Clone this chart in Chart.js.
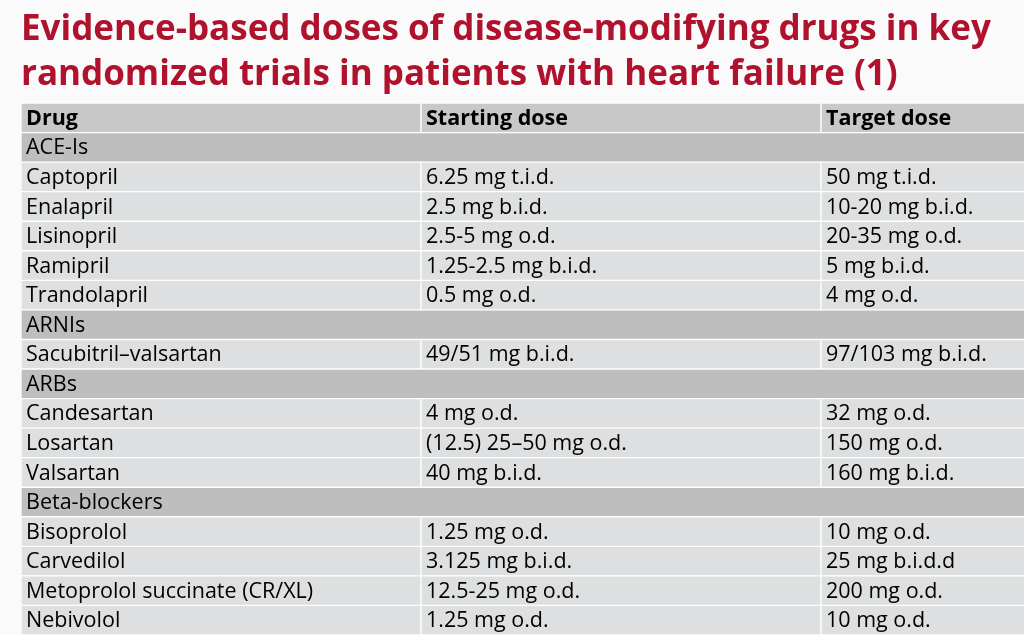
<!DOCTYPE html>
<html>
<head>
<meta charset="utf-8">
<title>Evidence-based doses</title>
<script src="https://cdn.jsdelivr.net/npm/chart.js@4.4.1/dist/chart.umd.min.js"></script>
<style>
    html, body { margin: 0; padding: 0; background: #fafafa; overflow: hidden; }
    #wrap { width: 1024px; height: 635px; }
</style>
</head>
<body>
<div id="wrap"><canvas id="doseTable" width="1024" height="635"></canvas></div>
<script>
// Table content
const titleLines = ['Evidence-based doses of disease-modifying drugs in key', 'randomized trials in patients with heart failure (1)'];
const headers = ['Drug', 'Starting dose', 'Target dose'];
const drugs = ['ACE-Is', 'Captopril', 'Enalapril', 'Lisinopril', 'Ramipril', 'Trandolapril',
    'ARNIs', 'Sacubitril\u2013valsartan',
    'ARBs', 'Candesartan', 'Losartan', 'Valsartan',
    'Beta-blockers', 'Bisoprolol', 'Carvedilol', 'Metoprolol succinate (CR/XL)', 'Nebivolol'];
// null = drug class row (spans the whole table)
const startingDoses = [null, '6.25 mg t.i.d.', '2.5 mg b.i.d.', '2.5-5 mg o.d.', '1.25-2.5 mg b.i.d.', '0.5 mg o.d.',
    null, '49/51 mg b.i.d.',
    null, '4 mg o.d.', '(12.5) 25\u201350 mg o.d.', '40 mg b.i.d.',
    null, '1.25 mg o.d.', '3.125 mg b.i.d.', '12.5-25 mg o.d.', '1.25 mg o.d.'];
const targetDoses = [null, '50 mg t.i.d.', '10-20 mg b.i.d.', '20-35 mg o.d.', '5 mg b.i.d.', '4 mg o.d.',
    null, '97/103 mg b.i.d.',
    null, '32 mg o.d.', '150 mg o.d.', '160 mg b.i.d.',
    null, '10 mg o.d.', '25 mg b.i.d.d', '200 mg o.d.', '10 mg o.d.'];

// Build rows (header first)
const rowLabels = ['header'].concat(drugs);
const rowKind = ['header'].concat(startingDoses.map(d => d === null ? 'class' : 'drug'));
const cellText = [headers].concat(drugs.map((d, i) => [d, startingDoses[i], targetDoses[i]]));

const rowColors = { header: '#c8c8c8', class: '#bebebe', drug: '#dedfe0' };
const fontFamily = '"Open Sans", Lato, sans-serif';

function cellRange(col) {
    return rowKind.map(kind => {
        if (kind === 'class') return col === 0 ? [0, 3] : null;
        return [col, col + 1];
    });
}

// Draw the cell texts on top of the bars
const cellTextPlugin = {
    id: 'cellText',
    afterDatasetsDraw(chart) {
        const ctx = chart.ctx;
        const x = chart.scales.x;
        const y = chart.scales.y;
        ctx.save();
        ctx.beginPath();
        ctx.rect(chart.chartArea.left, chart.chartArea.top, chart.chartArea.width, chart.chartArea.height);
        ctx.clip();
        ctx.fillStyle = '#000';
        ctx.textBaseline = 'middle';
        ctx.textAlign = 'left';
        cellText.forEach((row, i) => {
            ctx.font = (rowKind[i] === 'header' ? 'bold ' : '') + '21.5px ' + fontFamily;
            const py = y.getPixelForValue(i) + 1;
            row.forEach((txt, c) => {
                if (!txt) return;
                ctx.fillText(txt, x.getPixelForValue(c) + 5, py);
            });
        });
        ctx.restore();
    }
};

const barStyle = {
    grouped: false,
    barPercentage: 1,
    categoryPercentage: 1,
    borderWidth: 1,
    borderColor: '#ffffff',
    borderSkipped: false,
    backgroundColor: ctx => rowColors[rowKind[ctx.dataIndex]]
};

new Chart(document.getElementById('doseTable'), {
    type: 'bar',
    data: {
        labels: rowLabels,
        datasets: [0, 1, 2].map(c => Object.assign({ label: headers[c], data: cellRange(c) }, barStyle))
    },
    options: {
        indexAxis: 'y',
        responsive: false,
        animation: false,
        layout: { padding: { left: 21, right: 0, top: 0, bottom: 0 } },
        plugins: {
            legend: { display: false },
            tooltip: { enabled: false },
            title: {
                display: true,
                text: titleLines,
                align: 'start',
                color: '#b0112c',
                font: { family: fontFamily, size: 35, weight: 'bold', lineHeight: 1.286 },
                padding: { top: 8, bottom: 5 }
            }
        },
        scales: {
            x: { type: 'linear', min: 0, max: 2.5075, display: false },
            y: { type: 'category', display: false }
        }
    },
    plugins: [cellTextPlugin]
});
</script>
</body>
</html>
